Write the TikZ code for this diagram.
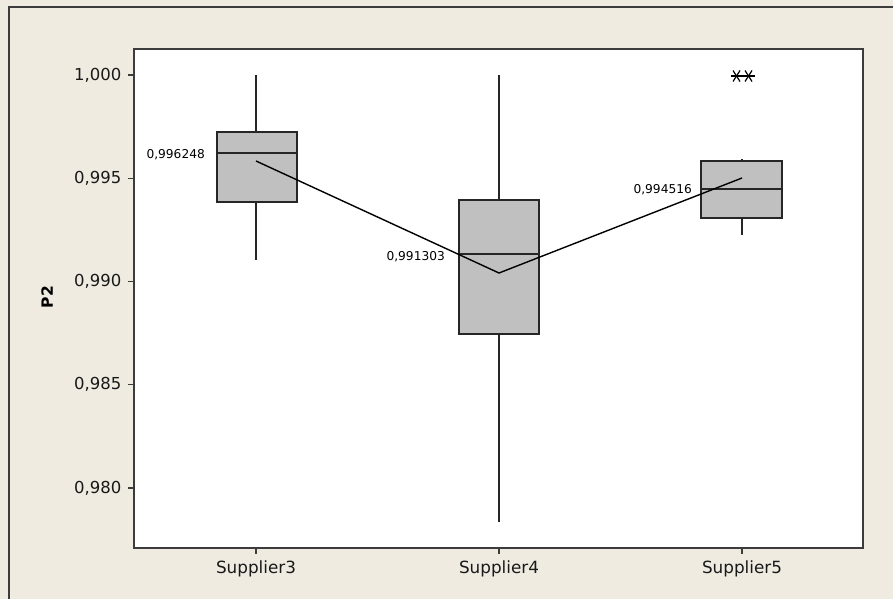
\documentclass[tikz,border=0pt]{standalone}
\usepackage{fontspec}
\setmainfont{DejaVu Sans}
\definecolor{panelbg}{HTML}{EFEBE1}
\definecolor{boxfill}{HTML}{C0C0C0}
\definecolor{framecol}{HTML}{3C3C3C}
\tikzset{
  frameline/.style={draw=framecol, line width=1.8pt},
  boxplot/.style={draw=black!85, fill=boxfill, line width=1.6pt},
  whisk/.style={draw=black!85, line width=1.5pt},
  axtick/.style={draw=framecol, line width=1.3pt},
  ylab/.style={anchor=east, inner sep=0pt, text=black!90, font=\fontsize{16.5}{18}\selectfont},
  xlab/.style={anchor=north, inner sep=0pt, text=black!90, font=\fontsize{16.8}{18}\selectfont},
  vallab/.style={inner sep=0pt, font=\fontsize{12.2}{14}\selectfont},
  meanline/.style={draw=black, line width=1.4pt},
  starline/.style={draw=black, line width=1.2pt}
}
\begin{document}
\begin{tikzpicture}[x=1pt,y=-1pt]
\useasboundingbox (0,0) rectangle (893,599);
% panel background and outer frame
\fill[panelbg] (0,0) rectangle (893,599);
\draw[frameline] (9,599) -- (9,7) -- (893,7);
% plotting area
\fill[white] (134,49) rectangle (863,548);
\draw[frameline] (134,49) rectangle (863,548);

% y axis ticks and labels
\foreach \yy/\lab/\nm in {75/{1,000}/ya, 178.25/{0,995}/yb, 281.5/{0,990}/yc, 384.75/{0,985}/yd, 488/{0,980}/ye}{
  \draw[axtick] (128,\yy) -- (134,\yy);
  \node[ylab] (\nm) at (121.5,\yy) {\lab};
}
\node[rotate=90, inner sep=0pt, font=\bfseries\fontsize{15.5}{17}\selectfont] (ytitle) at (47,297) {P2};

% x axis ticks and labels
\foreach \xx/\lab/\nm in {256/Supplier3/xa, 499/Supplier4/xb, 742/Supplier5/xc}{
  \draw[axtick] (\xx,548) -- (\xx,554);
  \node[xlab] (\nm) at (\xx,561) {\lab};
}

% Supplier3
\draw[whisk] (256,75) -- (256,132);
\draw[whisk] (256,202) -- (256,260);
\draw[boxplot] (217,132) rectangle (297,202);
\draw[whisk] (217,153) -- (297,153);
\coordinate (m3) at (256,161);
\node[vallab, anchor=east] (l3) at (205,155) {0,996248};

% Supplier4
\draw[whisk] (499,75) -- (499,200);
\draw[whisk] (499,334) -- (499,522);
\draw[boxplot] (459,200) rectangle (539,334);
\draw[whisk] (459,254) -- (539,254);
\coordinate (m4) at (499,273);
\node[vallab, anchor=east] (l4) at (445,257) {0,991303};

% Supplier5
\draw[whisk] (742,159) -- (742,161);
\draw[whisk] (742,218) -- (742,235);
\draw[boxplot] (701,161) rectangle (782,218);
\draw[whisk] (701,189) -- (782,189);
\coordinate (m5) at (742,178);
\node[vallab, anchor=east] (l5) at (692,190) {0,994516};

% outliers drawn as asterisks
\foreach \cx/\nm in {736.5/o1, 748.5/o2}{
  \coordinate (\nm) at (\cx,76);
  \draw[starline] ([xshift=-6pt]\nm) -- ([xshift=6pt]\nm);
  \draw[starline] ([xshift=-3.5pt,yshift=5.5pt]\nm) -- ([xshift=3.5pt,yshift=-5.5pt]\nm);
  \draw[starline] ([xshift=-3.5pt,yshift=-5.5pt]\nm) -- ([xshift=3.5pt,yshift=5.5pt]\nm);
}

% connect the means
\draw[meanline] (m3) -- (m4) -- (m5);
\end{tikzpicture}
\end{document}
